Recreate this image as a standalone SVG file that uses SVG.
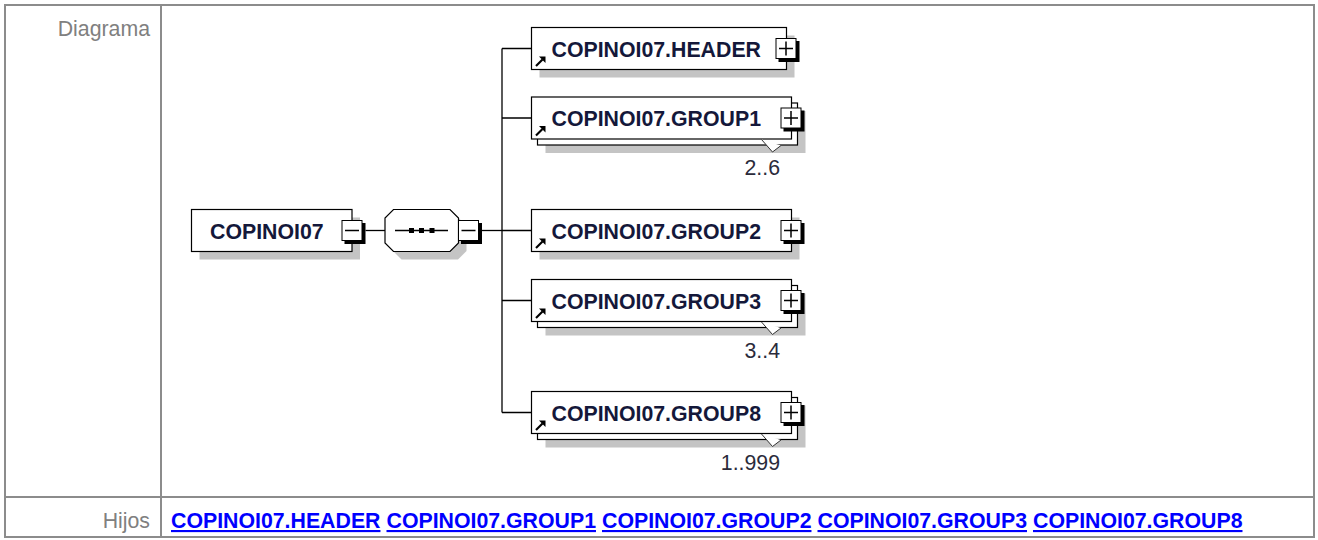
<svg xmlns="http://www.w3.org/2000/svg" width="1318" height="540" viewBox="0 0 1318 540">
<style>
.frame{fill:none;stroke:#8c8c8c;stroke-width:2}
.lbl{font-family:"Liberation Sans",Arial,sans-serif;font-size:21.3px;fill:#808080}
.name{font-family:"Liberation Sans",Arial,sans-serif;font-size:21.3px;font-weight:bold;fill:#14183a}
.card{font-family:"Liberation Sans",Arial,sans-serif;font-size:21.3px;fill:#2b2b3b;text-anchor:end}
.link{font-family:"Liberation Sans",Arial,sans-serif;font-size:21.3px;font-weight:bold;fill:#0000ff;text-decoration:underline}
.box{fill:#fff;stroke:#000;stroke-width:1.2}
.shadow{fill:#c4c4c4}
.wire{fill:none;stroke:#000;stroke-width:1.3}
.vfill{fill:#fff}
.vline{fill:none;stroke:#333;stroke-width:1}
</style>
<defs>
  <g id="btnPlus">
    <rect x="3" y="3" width="21" height="21" fill="#000"/>
    <rect x="0.5" y="0.5" width="20" height="20" fill="#fff" stroke="#000"/>
    <path d="M3.5 10.5H17.5M10.5 3.5V17.5" stroke="#000" stroke-width="1.5"/>
  </g>
  <g id="btnMinus">
    <rect x="3" y="3" width="21" height="21" fill="#000"/>
    <rect x="0.5" y="0.5" width="20" height="20" fill="#fff" stroke="#000"/>
    <path d="M3.5 10.5H17.5" stroke="#000" stroke-width="1.5"/>
  </g>
  <g id="refArrow">
    <path d="M0.5 9.5L7 3" stroke="#000" stroke-width="2.2"/>
    <path d="M10 0L10 6.5L3.5 0Z" fill="#000"/>
  </g>
</defs>

<g id="table">
  <rect class="frame" x="5" y="5" width="1309" height="532"/>
  <line class="frame" x1="161" y1="5" x2="161" y2="537"/>
  <line class="frame" x1="5" y1="497" x2="1314" y2="497"/>
  <text class="lbl" x="150" y="35.5" text-anchor="end">Diagrama</text>
  <text class="lbl" x="150" y="528" text-anchor="end">Hijos</text>
  <text class="link" x="171" y="528">COPINOI07.HEADER</text>
  <text class="link" x="386.5" y="528">COPINOI07.GROUP1</text>
  <text class="link" x="602" y="528">COPINOI07.GROUP2</text>
  <text class="link" x="817.5" y="528">COPINOI07.GROUP3</text>
  <text class="link" x="1033" y="528">COPINOI07.GROUP8</text>
</g>

<g id="connectors">
  <path class="wire" d="M365.5 230.5H385"/>
  <path class="wire" d="M482 230.5H502"/>
  <path class="wire" d="M502 48.5V412.5"/>
  <path class="wire" d="M502 48.5H531.5M502 118H531.5M502 230.5H531.5M502 300.5H531.5M502 412.5H531.5"/>
</g>

<g id="node-COPINOI07">
  <rect class="shadow" x="199.5" y="217.5" width="160.5" height="42"/>
  <rect class="box" x="191.5" y="209.5" width="160.5" height="42"/>
  <text class="name" x="210" y="238.5">COPINOI07</text>
  <use href="#btnMinus" x="341.5" y="220"/>
</g>

<g id="node-sequence">
  <polygon class="shadow" transform="translate(8,8)" points="393.5,209.5 450,209.5 458.5,218 458.5,243 450,251.5 393.5,251.5 385,243 385,218"/>
  <polygon class="box" points="393.5,209.5 450,209.5 458.5,218 458.5,243 450,251.5 393.5,251.5 385,243 385,218"/>
  <path class="wire" d="M395 230.5H448"/>
  <rect x="409" y="228" width="5" height="5" fill="#000"/>
  <rect x="419" y="228" width="5" height="5" fill="#000"/>
  <rect x="429.5" y="228" width="5" height="5" fill="#000"/>
  <use href="#btnMinus" x="458" y="220"/>
</g>

<g id="node-HEADER">
  <rect class="shadow" x="539.5" y="35.5" width="255" height="42"/>
  <rect class="box" x="531.5" y="27.5" width="255" height="42"/>
  <use href="#refArrow" x="535.5" y="56.5"/>
  <text class="name" x="551.5" y="56.5">COPINOI07.HEADER</text>
  <use href="#btnPlus" x="775.5" y="38"/>
</g>

<g id="node-GROUP1">
  <rect class="shadow" x="545.5" y="111" width="260" height="42"/>
  <rect class="box" x="537.5" y="103" width="260" height="42"/>
  <rect class="box" x="531.5" y="97" width="260" height="42"/>
  <use href="#refArrow" x="535.5" y="126"/>
  <text class="name" x="551.5" y="126">COPINOI07.GROUP1</text>
  <use href="#btnPlus" x="780.5" y="107.5"/>
  <polygon class="vfill" points="761.5,139.5 772.5,152 781,145.5"/>
  <polyline class="vline" points="761.5,139.5 772.5,152 781,145.5"/>
  <text class="card" x="780" y="175">2..6</text>
</g>

<g id="node-GROUP2">
  <rect class="shadow" x="539.5" y="217.5" width="260" height="42"/>
  <rect class="box" x="531.5" y="209.5" width="260" height="42"/>
  <use href="#refArrow" x="535.5" y="238.5"/>
  <text class="name" x="551.5" y="238.5">COPINOI07.GROUP2</text>
  <use href="#btnPlus" x="780.5" y="220"/>
</g>

<g id="node-GROUP3">
  <rect class="shadow" x="545.5" y="293.5" width="260" height="42"/>
  <rect class="box" x="537.5" y="285.5" width="260" height="42"/>
  <rect class="box" x="531.5" y="279.5" width="260" height="42"/>
  <use href="#refArrow" x="535.5" y="308.5"/>
  <text class="name" x="551.5" y="308.5">COPINOI07.GROUP3</text>
  <use href="#btnPlus" x="780.5" y="290"/>
  <polygon class="vfill" points="761.5,322 772.5,334.5 781,328"/>
  <polyline class="vline" points="761.5,322 772.5,334.5 781,328"/>
  <text class="card" x="780" y="357.5">3..4</text>
</g>

<g id="node-GROUP8">
  <rect class="shadow" x="545.5" y="405.5" width="260" height="42"/>
  <rect class="box" x="537.5" y="397.5" width="260" height="42"/>
  <rect class="box" x="531.5" y="391.5" width="260" height="42"/>
  <use href="#refArrow" x="535.5" y="420.5"/>
  <text class="name" x="551.5" y="420.5">COPINOI07.GROUP8</text>
  <use href="#btnPlus" x="780.5" y="402"/>
  <polygon class="vfill" points="761.5,434 772.5,446.5 781,440"/>
  <polyline class="vline" points="761.5,434 772.5,446.5 781,440"/>
  <text class="card" x="780" y="469.5">1..999</text>
</g>
</svg>
